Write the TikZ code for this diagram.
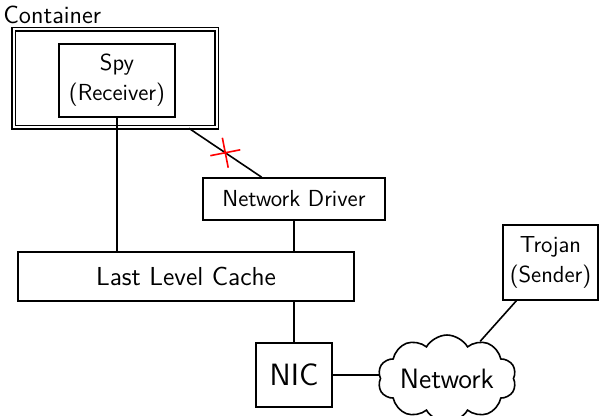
\documentclass[tikz,border=0pt]{standalone}
\usepackage{tikz}
\usetikzlibrary{shapes.symbols,shapes.misc}
\renewcommand{\familydefault}{\sfdefault}

\begin{document}
\begin{tikzpicture}[x=0.5pt,y=-0.5pt,
  box/.style={draw,thick,align=center,inner sep=2pt,font=\fontsize{11.6}{14}\selectfont},
  wire/.style={thick}]
  \useasboundingbox (0,0) rectangle (606,416);
  \node (cont) [draw,thick,double,double distance=1pt,minimum width=101.5pt,minimum height=49pt] at (115,78.5) {};
  \node (contlbl) [anchor=base west,inner sep=0pt,font=\fontsize{12.4}{14}\selectfont] at (3,24) {Container};
  \node (spy) [box,minimum width=58pt,minimum height=36.5pt] at (117,80.5) {Spy\\[1pt](Receiver)};
  \node (drv) [box,minimum width=91pt,minimum height=21pt] at (294,199) {Network Driver};
  \node (llc) [box,minimum width=168pt,minimum height=24.5pt,font=\fontsize{13}{15}\selectfont] at (186,276.5) {Last Level Cache};
  \node (nic) [box,minimum width=38pt,minimum height=32pt,font=\fontsize{15.4}{18}\selectfont] at (294,375) {NIC};
  \node (net) [cloud,draw,thick,cloud puffs=10,cloud puff arc=120,aspect=2,inner sep=0pt,minimum width=69pt,minimum height=36pt,font=\fontsize{14}{16}\selectfont] at (447,378.5) {Network};
  \node (trj) [box,minimum width=47.5pt,minimum height=37.5pt] at (550.5,262.5) {Trojan\\[1pt](Sender)};
  % connections
  \draw[wire] (spy.south) -- (spy.south |- llc.north);
  \draw[wire] (cont) -- node[sloped,cross out,draw=red,thick,minimum size=10pt,inner sep=0pt] {} (drv);
  \draw[wire] (drv.south) -- (drv.south |- llc.north);
  \draw[wire] (nic.north |- llc.south) -- (nic.north);
  \draw[wire] (nic.east) -- (nic.east -| net.west);
  \draw[wire] (trj) -- (net);
\end{tikzpicture}
\end{document}
